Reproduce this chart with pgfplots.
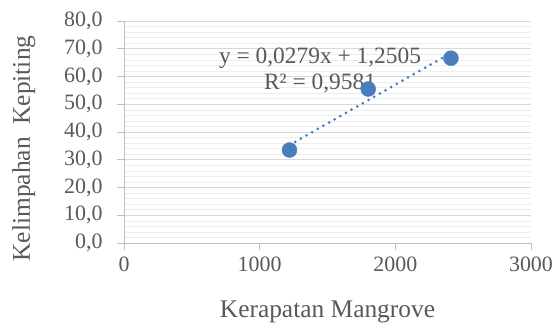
\documentclass[border=0pt]{standalone}
\usepackage{pgfplots}
\pgfplotsset{compat=1.18}
\usepackage{fontspec}
\setmainfont{Liberation Serif}
\definecolor{txt}{HTML}{595959}
\definecolor{ser}{HTML}{4A7EBB}
\definecolor{majg}{HTML}{D9D9D9}
\definecolor{ming}{HTML}{EDEDED}
\definecolor{axc}{HTML}{BFBFBF}
\begin{document}
\begin{tikzpicture}
\begin{axis}[
  scale only axis, width=407bp, height=222bp,
  at={(0,0)}, anchor=south west,
  xmin=0, xmax=3000, ymin=0, ymax=80,
  xtick={0,1000,2000,3000},
  ytick={0,10,...,80},
  minor y tick num=4,
  ymajorgrids, yminorgrids,
  major grid style={majg, line width=0.8pt},
  minor grid style={ming, line width=0.6pt},
  axis x line*=bottom, axis y line*=left,
  axis line style={axc, line width=0.9pt, -},
  tick style={axc, line width=0.9pt},
  minor y tick style={draw=none},
  tick align=outside, major tick length=7bp,
  xticklabel style={text=txt, font=\fontsize{22}{24}\selectfont, yshift=-3bp},
  yticklabel style={text=txt, font=\fontsize{22}{24}\selectfont, xshift=-11bp},
  /pgf/number format/assume math mode=true,
  x tick label style={/pgf/number format/1000 sep={}},
  y tick label style={/pgf/number format/.cd, use comma, fixed, fixed zerofill, precision=1},
  xlabel={Kerapatan Mangrove},
  ylabel={Kelimpahan\ \ Kepiting},
  label style={text=txt, font=\fontsize{25.5}{27}\selectfont},
  xlabel style={at={(axis description cs:0.5,0)}, anchor=base, yshift=-74bp, inner sep=0pt},
  ylabel style={at={(axis description cs:0,0.4257)}, anchor=base, yshift=94bp, inner sep=0pt},
  clip=false,
]
\addplot[ser, line width=3bp, line cap=round, dash pattern=on 0pt off 6.5bp] coordinates {(1220,35.29) (2410,68.49)};
\addplot[only marks, mark=*, mark size=7.5bp, mark options={fill=ser, draw=ser}] coordinates {
(1220,33.5) (1800,55.5) (2410,66.6)};
\node[text=txt, font=\fontsize{23.5}{25.5}\selectfont, align=center] at (axis cs:1445,62.2)
  {y = 0,0279x + 1,2505\\R² = 0,9581};
\end{axis}
\pgfresetboundingbox
\useasboundingbox (-124bp,-80bp) rectangle (433bp,243bp);
\end{tikzpicture}
\end{document}
